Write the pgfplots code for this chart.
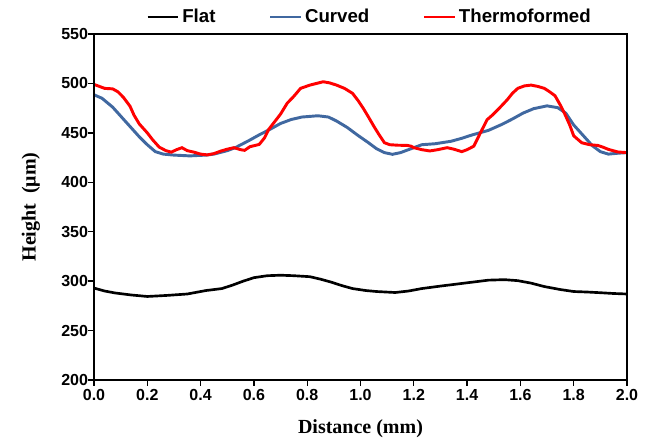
\documentclass[border=0pt]{standalone}
\usepackage{fontspec}
\setmainfont{Liberation Sans}
\newfontfamily\timesfont{Liberation Serif}
\usepackage{pgfplots}
\pgfplotsset{compat=1.18}

\definecolor{curvedblue}{RGB}{64,104,160}

\begin{document}
\begin{tikzpicture}
% page frame: 646 x 447 px at 0.75 pt per px, plot box at (0,0)
\path[use as bounding box] (-70.5pt,-50.25pt) rectangle (414pt,285pt);
\begin{axis}[
    at={(0,0)}, anchor=south west,
    scale only axis,
    width=399.75pt, height=259.5pt,
    xmin=0, xmax=2, ymin=200, ymax=550,
    xtick={0,0.2,...,2.0},
    ytick={200,250,...,550},
    major tick style={draw=none},
    axis line style={line width=1pt},
    % outward ticks on the left and bottom only
    extra description/.code={
        \foreach \i in {0,...,10} {
            \pgfmathsetmacro\xx{\i/10}
            \draw[black, line width=1pt] (rel axis cs:\xx,0) -- ++(0pt,-4.5pt);
        }
        \foreach \j in {0,...,7} {
            \pgfmathsetmacro\yy{\j/7}
            \draw[black, line width=1pt] (rel axis cs:0,\yy) -- ++(-4.5pt,0pt);
        }
        \draw[black, line width=1pt] (rel axis cs:0,0) rectangle (rel axis cs:1,1);
    },
    /pgf/number format/assume math mode=true,
    tick label style={font=\fontsize{12}{14}\selectfont\bfseries},
    xticklabel style={yshift=-3.5pt, /pgf/number format/.cd, fixed, fixed zerofill, precision=1},
    yticklabel style={xshift=-1pt, /pgf/number format/.cd, fixed, precision=0},
    xlabel={\timesfont\bfseries Distance (mm)},
    ylabel={\timesfont\bfseries Height\ \ (μm)},
    label style={font=\fontsize{15}{18}\selectfont},
    xlabel style={yshift=-7pt},
    ylabel style={yshift=9pt},
    legend columns=3,
    legend style={
        draw=none, inner sep=0pt,
        at={(axis description cs:0.0976,1)}, anchor=west, yshift=12.75pt,
        font=\fontsize{14}{16}\selectfont\bfseries,
        /tikz/every even column/.append style={column sep=38pt},
    },
    legend image code/.code={\draw[#1] (0pt,0pt) -- (23pt,0pt);},
]
\addplot[black, line width=2pt] coordinates {
(0,293) (0.04,290) (0.08,288) (0.14,286) (0.2,284.5) (0.27,285.5) (0.35,287)
(0.42,290.5) (0.48,292.5) (0.52,296) (0.56,300) (0.6,303.5) (0.65,305.5)
(0.7,306) (0.75,305.5) (0.81,304.5) (0.85,302) (0.89,299) (0.93,295.5)
(0.97,292.5) (1.02,290.5) (1.06,289.5) (1.13,288.5) (1.18,290) (1.23,292.5)
(1.3,295) (1.36,297) (1.42,299) (1.48,301) (1.54,301.5) (1.59,300.5)
(1.64,298) (1.69,294.5) (1.75,291.5) (1.8,289.5) (1.85,289) (1.9,288.3)
(1.95,287.5) (2.0,287)
};
\addlegendentry{Flat}
\addplot[curvedblue, line width=2.2pt] coordinates {
(0,488.5) (0.03,485) (0.07,476) (0.1,467) (0.135,456.5) (0.17,446) (0.2,438)
(0.23,431) (0.26,428.5) (0.3,427.5) (0.36,426.7) (0.42,427.5) (0.45,428.5)
(0.5,432) (0.53,435) (0.58,442) (0.62,448) (0.66,453.5) (0.7,459.5)
(0.74,463.5) (0.78,466) (0.84,467.3) (0.88,466) (0.91,462) (0.95,455.5)
(0.99,447.5) (1.03,440) (1.06,434) (1.09,430) (1.12,428.3) (1.15,430)
(1.19,434) (1.23,438) (1.28,439) (1.34,441.5) (1.38,444.5) (1.42,448)
(1.48,452.5) (1.53,458.5) (1.57,464) (1.61,470) (1.65,474.5) (1.7,477.3)
(1.74,475.5) (1.77,470) (1.8,458) (1.84,446) (1.87,437) (1.9,431)
(1.93,428.5) (1.97,429.5) (2.0,430)
};
\addlegendentry{Curved}
\addplot[red, line width=2.2pt] coordinates {
(0,499) (0.02,497) (0.04,495) (0.07,494.5) (0.09,491.5) (0.11,486)
(0.135,477) (0.15,468) (0.17,459) (0.2,450) (0.22,443) (0.245,435.5)
(0.27,432) (0.29,430.5) (0.31,433) (0.33,435) (0.35,432) (0.375,430.5)
(0.4,428.5) (0.425,427.7) (0.45,429) (0.475,431.5) (0.5,433.5) (0.525,435)
(0.55,433) (0.565,432.3) (0.585,436) (0.62,438.3) (0.64,445) (0.655,453.3)
(0.68,462) (0.7,469) (0.725,480) (0.75,487) (0.775,495) (0.81,498.3)
(0.835,500) (0.86,501.7) (0.885,500.5) (0.91,498.3) (0.94,495) (0.97,490)
(0.99,483) (1.01,475) (1.03,466) (1.05,456.7) (1.07,448) (1.09,440)
(1.11,438) (1.14,437.5) (1.175,437.3) (1.19,436.5) (1.2,435) (1.23,433)
(1.26,431.7) (1.29,433) (1.325,435) (1.35,433.5) (1.38,431) (1.4,433)
(1.425,436.5) (1.45,450) (1.475,463.3) (1.495,468) (1.515,473.3) (1.55,483.3)
(1.57,490) (1.59,495) (1.615,497.5) (1.64,498.3) (1.665,497) (1.69,495)
(1.71,491.5) (1.73,487.5) (1.75,478) (1.765,470) (1.785,458) (1.8,447)
(1.83,440) (1.86,438) (1.89,437.3) (1.91,435.5) (1.93,433.3) (1.965,430.7)
(2.0,430)
};
\addlegendentry{Thermoformed}
\end{axis}
\end{tikzpicture}
\end{document}
